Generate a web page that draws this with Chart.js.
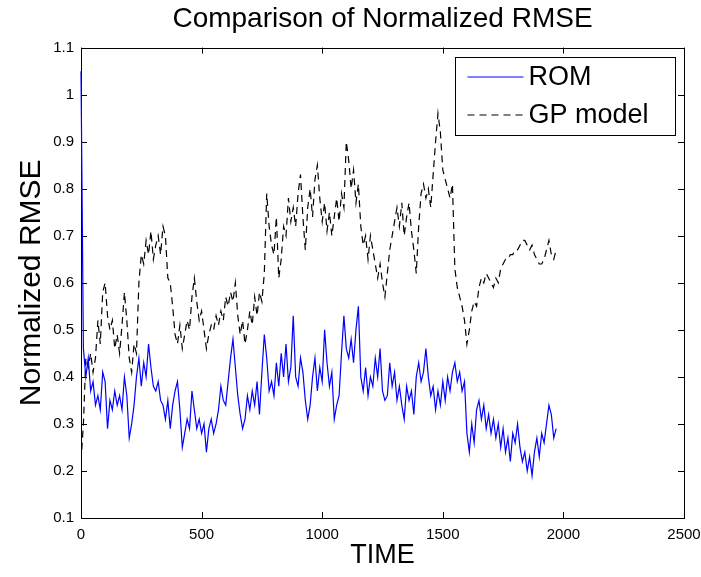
<!DOCTYPE html>
<html>
<head>
<meta charset="utf-8">
<title>Comparison of Normalized RMSE</title>
<script src="https://cdn.jsdelivr.net/npm/chart.js@4/dist/chart.umd.min.js"></script>
<style>
  html, body { margin: 0; padding: 0; background: #fff; }
  #wrap { position: relative; width: 701px; height: 577px; }
</style>
</head>
<body>
<div id="wrap"><canvas id="chart"></canvas></div>
<script>
// one sample every 10 time units
const sampleStep = 10;

const romValues = [
  1.05, 0.46, 0.40, 0.44, 0.37, 0.39, 0.34, 0.36, 0.33, 0.41,
  0.39, 0.29, 0.35, 0.33, 0.37, 0.34, 0.36, 0.33, 0.40, 0.36,
  0.27, 0.30, 0.34, 0.40, 0.44, 0.38, 0.43, 0.40, 0.47, 0.42,
  0.38, 0.37, 0.39, 0.35, 0.34, 0.31, 0.35, 0.29, 0.34, 0.37,
  0.39, 0.33, 0.25, 0.28, 0.31, 0.29, 0.37, 0.33, 0.29, 0.31,
  0.28, 0.30, 0.24, 0.29, 0.31, 0.28, 0.30, 0.33, 0.38, 0.35,
  0.34, 0.39, 0.44, 0.48, 0.42, 0.36, 0.32, 0.29, 0.31, 0.36,
  0.33, 0.37, 0.34, 0.39, 0.32, 0.41, 0.49, 0.44, 0.37, 0.39,
  0.36, 0.43, 0.38, 0.45, 0.40, 0.47, 0.39, 0.42, 0.53, 0.40,
  0.38, 0.44, 0.41, 0.35, 0.31, 0.34, 0.40, 0.44, 0.37, 0.42,
  0.39, 0.50, 0.43, 0.38, 0.41, 0.31, 0.34, 0.36, 0.45, 0.53,
  0.46, 0.44, 0.48, 0.43, 0.50, 0.55, 0.40, 0.37, 0.42, 0.36,
  0.40, 0.38, 0.44, 0.40, 0.46, 0.37, 0.35, 0.36, 0.43, 0.38,
  0.41, 0.35, 0.38, 0.34, 0.31, 0.38, 0.35, 0.37, 0.32, 0.40,
  0.43, 0.39, 0.41, 0.46, 0.40, 0.36, 0.38, 0.33, 0.37, 0.34,
  0.39, 0.35, 0.40, 0.37, 0.41, 0.43, 0.39, 0.41, 0.37, 0.39,
  0.28, 0.24, 0.30, 0.26, 0.33, 0.35, 0.31, 0.34, 0.29, 0.32,
  0.28, 0.31, 0.27, 0.30, 0.25, 0.29, 0.24, 0.27, 0.22, 0.28,
  0.26, 0.30, 0.25, 0.22, 0.24, 0.20, 0.23, 0.19, 0.24, 0.27,
  0.23, 0.28, 0.26, 0.30, 0.34, 0.32, 0.27, 0.29
];

const gpValues = [
  0.22, 0.30, 0.44, 0.42, 0.45, 0.41, 0.44, 0.52, 0.47, 0.58,
  0.60, 0.53, 0.50, 0.52, 0.46, 0.49, 0.45, 0.51, 0.58, 0.52,
  0.44, 0.41, 0.47, 0.45, 0.60, 0.66, 0.64, 0.69, 0.66, 0.71,
  0.65, 0.68, 0.70, 0.66, 0.72, 0.70, 0.61, 0.60, 0.55, 0.49,
  0.47, 0.51, 0.46, 0.49, 0.52, 0.50, 0.57, 0.61, 0.56, 0.52,
  0.54, 0.50, 0.46, 0.49, 0.51, 0.50, 0.53, 0.51, 0.54, 0.52,
  0.57, 0.55, 0.58, 0.56, 0.60, 0.53, 0.49, 0.52, 0.47, 0.50,
  0.54, 0.51, 0.57, 0.53, 0.58, 0.56, 0.62, 0.79, 0.72, 0.68,
  0.66, 0.74, 0.61, 0.65, 0.72, 0.70, 0.78, 0.73, 0.76, 0.72,
  0.79, 0.83, 0.74, 0.67, 0.76, 0.80, 0.74, 0.82, 0.85, 0.78,
  0.73, 0.77, 0.71, 0.75, 0.70, 0.74, 0.78, 0.73, 0.79, 0.76,
  0.90, 0.86, 0.80, 0.84, 0.77, 0.81, 0.72, 0.68, 0.70, 0.65,
  0.70, 0.67, 0.64, 0.61, 0.64, 0.60, 0.57, 0.62, 0.67, 0.70,
  0.73, 0.76, 0.72, 0.77, 0.70, 0.74, 0.77, 0.71, 0.67, 0.62,
  0.72, 0.79, 0.81, 0.78, 0.80, 0.76, 0.83, 0.90, 0.96, 0.92,
  0.84, 0.82, 0.80, 0.78, 0.81, 0.63, 0.59, 0.57, 0.55, 0.52,
  0.47, 0.50, 0.54, 0.56, 0.55, 0.59, 0.61, 0.60, 0.62, 0.61,
  0.60, 0.59, 0.61, 0.60, 0.63, 0.64, 0.65, 0.65, 0.66, 0.66,
  0.67, 0.67, 0.68, 0.69, 0.69, 0.68, 0.67, 0.68, 0.66, 0.65,
  0.64, 0.64, 0.65, 0.67, 0.69, 0.66, 0.65, 0.67
];

const xTicks = [0, 500, 1000, 1500, 2000, 2500];
const yTicks = [0.1, 0.2, 0.3, 0.4, 0.5, 0.6, 0.7, 0.8, 0.9, 1, 1.1];

const fontFamily = '"Liberation Sans", Arial, Helvetica, sans-serif';

function toPoints(values) {
  return values.map((v, i) => ({ x: i * sampleStep, y: v }));
}

// MATLAB style box with ticks pointing inwards on all four sides
const axesBoxPlugin = {
  id: "axesBox",
  beforeDatasetsDraw(chart) {
    const { ctx, chartArea: area, scales } = chart;
    const tickLen = 6;
    ctx.save();
    ctx.strokeStyle = "#000";
    ctx.lineWidth = 1;
    ctx.beginPath();
    xTicks.forEach((v) => {
      const px = Math.round(scales.x.getPixelForValue(v)) + 0.5;
      ctx.moveTo(px, area.bottom);
      ctx.lineTo(px, area.bottom - tickLen);
      ctx.moveTo(px, area.top);
      ctx.lineTo(px, area.top + tickLen);
    });
    yTicks.forEach((v) => {
      const py = Math.round(scales.y.getPixelForValue(v)) + 0.5;
      ctx.moveTo(area.left, py);
      ctx.lineTo(area.left + tickLen, py);
      ctx.moveTo(area.right, py);
      ctx.lineTo(area.right - tickLen, py);
    });
    ctx.stroke();
    ctx.strokeRect(
      Math.round(area.left) + 0.5,
      Math.round(area.top) + 0.5,
      Math.round(area.right - area.left),
      Math.round(area.bottom - area.top)
    );
    ctx.restore();
  },
};

// legend box in the upper right corner of the axes
const insetLegendPlugin = {
  id: "insetLegend",
  afterDraw(chart) {
    const { ctx, chartArea: area } = chart;
    const boxW = 220;
    const boxH = 78;
    const left = Math.round(area.right - 9 - boxW) + 0.5;
    const top = Math.round(area.top + 9) + 0.5;
    ctx.save();
    ctx.fillStyle = "#fff";
    ctx.fillRect(left, top, boxW, boxH);
    ctx.strokeStyle = "#000";
    ctx.lineWidth = 1;
    ctx.strokeRect(left, top, boxW, boxH);
    ctx.font = `27px ${fontFamily}`;
    ctx.textBaseline = "middle";
    chart.data.datasets.forEach((ds, i) => {
      const rowY = Math.round(top + 19 + i * 38);
      ctx.strokeStyle = ds.borderColor;
      ctx.lineWidth = ds.borderWidth;
      ctx.setLineDash(ds.borderDash || []);
      ctx.beginPath();
      ctx.moveTo(left + 12, rowY);
      ctx.lineTo(left + 68, rowY);
      ctx.stroke();
      ctx.setLineDash([]);
      ctx.fillStyle = "#000";
      ctx.fillText(ds.label, left + 73, rowY + 1);
    });
    ctx.restore();
  },
};

new Chart(document.getElementById("chart"), {
  type: "line",
  data: {
    datasets: [
      {
        label: "ROM",
        data: toPoints(romValues),
        borderColor: "#0000ff",
        borderWidth: 1.2,
        pointRadius: 0,
        tension: 0,
        fill: false,
        clip: false,
      },
      {
        label: "GP model",
        data: toPoints(gpValues),
        borderColor: "#000000",
        borderWidth: 1.2,
        borderDash: [7, 5],
        pointRadius: 0,
        tension: 0,
        fill: false,
      },
    ],
  },
  options: {
    responsive: true,
    maintainAspectRatio: false,
    animation: false,
    layout: { padding: { left: 0, right: 17, top: 0, bottom: 0 } },
    plugins: {
      legend: { display: false },
      tooltip: { enabled: false },
      title: {
        display: true,
        text: "Comparison of Normalized RMSE",
        fullSize: false,
        color: "#000",
        font: { family: fontFamily, size: 28, weight: "normal" },
        padding: { top: 2, bottom: 12 },
      },
    },
    scales: {
      x: {
        type: "linear",
        min: 0,
        max: 2500,
        grid: { display: false, drawTicks: false },
        border: { display: false },
        afterBuildTicks(scale) {
          scale.ticks = xTicks.map((v) => ({ value: v }));
        },
        afterFit(scale) {
          scale.height = 59;
          scale.paddingLeft = 0;
          scale.paddingRight = 0;
        },
        ticks: {
          color: "#000",
          padding: 8,
          maxRotation: 0,
          autoSkip: false,
          font: { family: fontFamily, size: 15 },
          callback: (v) => String(v),
        },
        title: {
          display: true,
          text: "TIME",
          color: "#000",
          font: { family: fontFamily, size: 27 },
          padding: { top: 0, bottom: 5 },
        },
      },
      y: {
        type: "linear",
        min: 0.1,
        max: 1.1,
        grid: { display: false, drawTicks: false },
        border: { display: false },
        afterBuildTicks(scale) {
          scale.ticks = yTicks.map((v) => ({ value: v }));
        },
        afterFit(scale) {
          scale.width = 81;
          scale.paddingTop = 0;
          scale.paddingBottom = 0;
        },
        ticks: {
          color: "#000",
          padding: 7,
          autoSkip: false,
          font: { family: fontFamily, size: 15 },
          callback: (v) => String(Number(v.toFixed(1))),
        },
        title: {
          display: true,
          text: "Normalized RMSE",
          color: "#000",
          font: { family: fontFamily, size: 30 },
          padding: { top: 14, bottom: 0 },
        },
      },
    },
  },
  plugins: [axesBoxPlugin, insetLegendPlugin],
});
</script>
</body>
</html>
